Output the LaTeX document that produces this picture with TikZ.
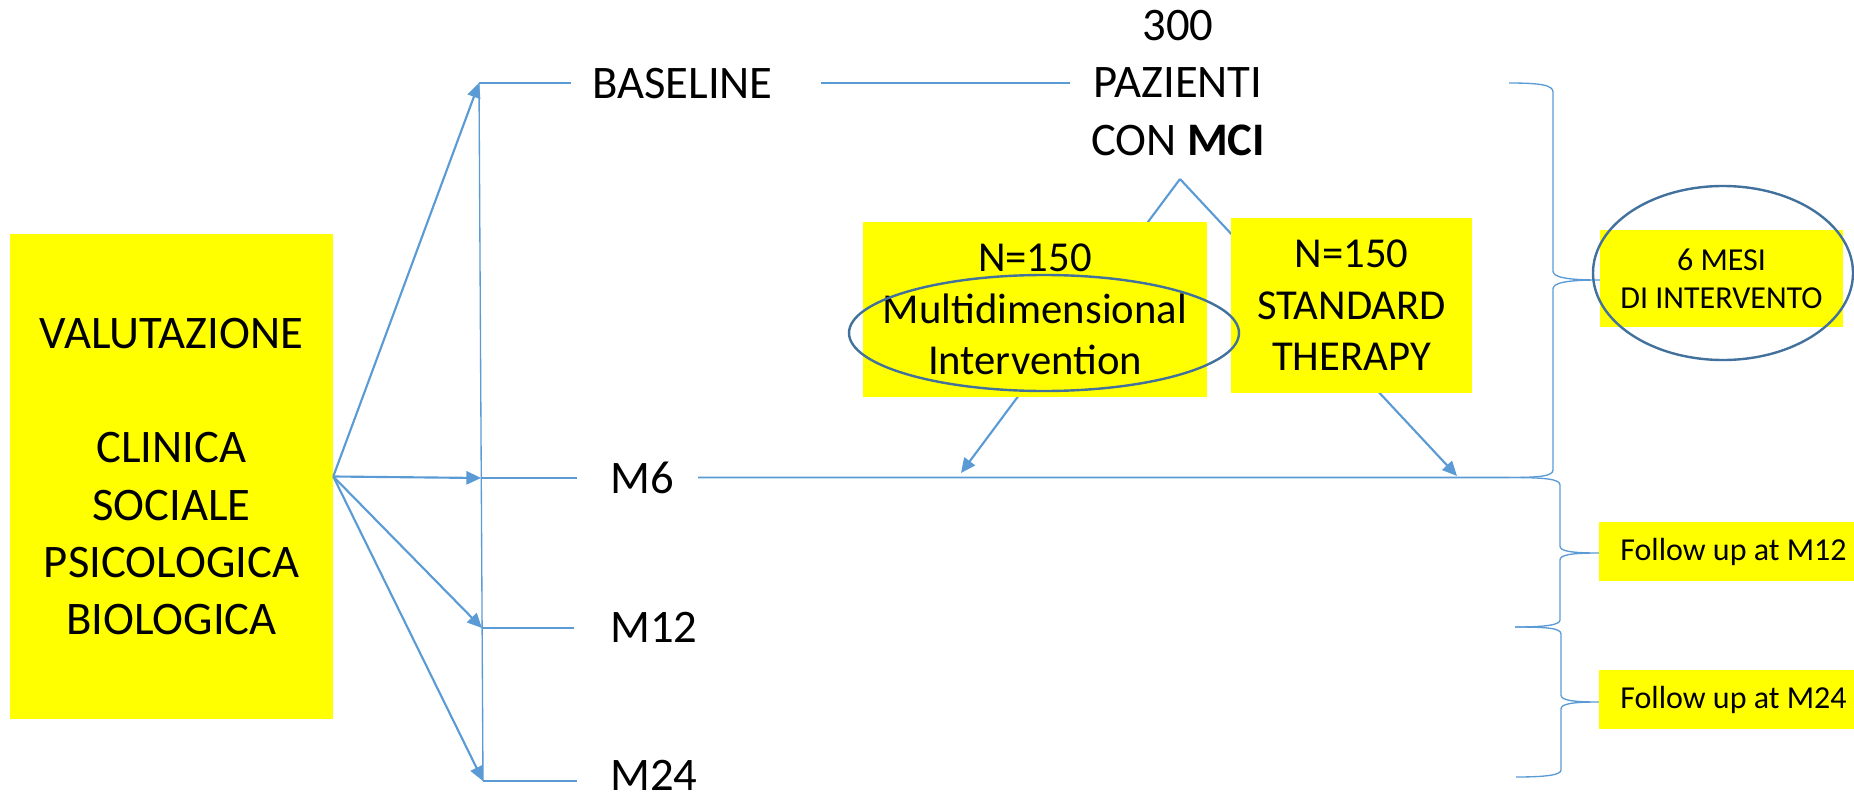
\documentclass[tikz,border=0pt]{standalone}
\usepackage{fontspec}
\setmainfont{Carlito}
\usetikzlibrary{arrows.meta,calc}
\definecolor{lblue}{HTML}{5B9BD5}
\definecolor{dblue}{HTML}{41719C}
\definecolor{yel}{HTML}{FFFF00}
\begin{document}
\begin{tikzpicture}[x=0.75pt,y=-0.75pt,
 conn/.style={draw=lblue, line width=1pt},
 arr/.style={draw=lblue, line width=1.6pt, -{Triangle[length=11pt,width=10pt]}},
 ybox/.style={fill=yel, inner sep=0pt, align=center},
 big/.style={font=\fontsize{35pt}{43pt}\selectfont},
 mid/.style={font=\fontsize{32pt}{38.6pt}\selectfont},
 small/.style={font=\fontsize{24pt}{28.5pt}\selectfont},
 lab/.style={big, inner sep=0pt, anchor=base west},
 ring/.style={draw=dblue, line width=1.8pt},
]
\useasboundingbox (0,0) rectangle (1854,796);

% left evaluation box
\node[ybox,big,minimum width=242.25pt,minimum height=363.75pt] (val) at (171.5,476.5)
  {VALUTAZIONE\\\mbox{}\\CLINICA\\SOCIALE\\PSICOLOGICA\\BIOLOGICA};

% time-point corners
\coordinate (c0) at (479,83);
\coordinate (c6) at (481,478);
\coordinate (c12) at (482,628);
\coordinate (c24) at (483,781);

\draw[conn] (c0) -- (c24);
\foreach \c in {c0,c6,c12,c24} \draw[arr] (val.east) -- (\c);

% time-point labels
\node[lab] (base) at (592,98) {BASELINE};
\node[lab] (m6) at (610,493) {M6};
\node[lab] (m12) at (610,642) {M12};
\node[lab] (m24) at (610,790) {M24};

\draw[conn, shorten >=15.75pt] (c0) -- (c0 -| base.west);
\draw[conn, shorten >=24.75pt] (c6) -- (c6 -| m6.west);
\draw[conn, shorten >=27pt] (c12) -- (c12 -| m12.west);
\draw[conn, shorten >=24.75pt] (c24) -- (c24 -| m24.west);

% patients
\node[big, inner sep=0pt, align=center] (paz) at (1178,82.7) {300\\PAZIENTI\\CON \textbf{MCI}};
\draw[conn, shorten <=36pt, shorten >=15.75pt] (base.east) -- (base.east -| paz.west);

\coordinate (apex) at (1180,179);
\coordinate (tl) at (961,473);
\coordinate (tr) at (1457,476);
\coordinate (b0) at (1509,83);
\coordinate (b1) at (1509,477.5);
\coordinate (b2) at (1515,627);
\coordinate (b3) at (1516,777);

\draw[conn, line width=1.3pt, shorten <=18pt] (m6.east) -- (b1);
\draw[arr] (apex) -- (tl);
\draw[arr] (apex) -- (tr);

% braces
\draw[conn] (b0) .. controls (1540,83) and (1553,85) .. (1553,92) -- (1553,271)
  .. controls (1553,277) and (1565,280) .. (1600,280)
  .. controls (1565,280) and (1553,283) .. (1553,289) -- (1553,470)
  .. controls (1553,476) and (1540,477.5) .. (b1);
\draw[conn] (b1) .. controls (1545,477.5) and (1560,479) .. (1560,485) -- (1560,546)
  .. controls (1560,551) and (1570,553) .. (1599,553)
  .. controls (1570,553) and (1560,555) .. (1560,560) -- (1560,620)
  .. controls (1560,625) and (1545,627) .. (b2);
\draw[conn] (b2) .. controls (1546,627) and (1561,628) .. (1561,634) -- (1561,695)
  .. controls (1561,700) and (1571,702) .. (1599,702)
  .. controls (1571,702) and (1561,704) .. (1561,709) -- (1561,770)
  .. controls (1561,775) and (1546,777) .. (b3);

% arms
\node[ybox,mid,minimum width=258pt,minimum height=131.25pt] (multi) at (1035,309.5)
  {N=150\\Multidimensional\\Intervention};
\node[ybox,mid,minimum width=180.75pt,minimum height=131.25pt] (std) at (1351.5,305.5)
  {N=150\\STANDARD\\THERAPY};
\draw[ring] (1044,333) ellipse [x radius=195, y radius=58];

% right labels
\node[ybox,small,minimum width=182.25pt,minimum height=72.75pt] (mesi) at (1721.5,278.5)
  {6 MESI\\DI INTERVENTO};
\draw[ring] (1723,273) ellipse [x radius=130, y radius=87];
\node[ybox,small,minimum width=201.75pt,minimum height=44.25pt] (fu12) at (1733.5,551.5)
  {Follow up at M12};
\node[ybox,small,minimum width=201.75pt,minimum height=44.25pt] (fu24) at (1733.5,699.5)
  {Follow up at M24};
\end{tikzpicture}
\end{document}
